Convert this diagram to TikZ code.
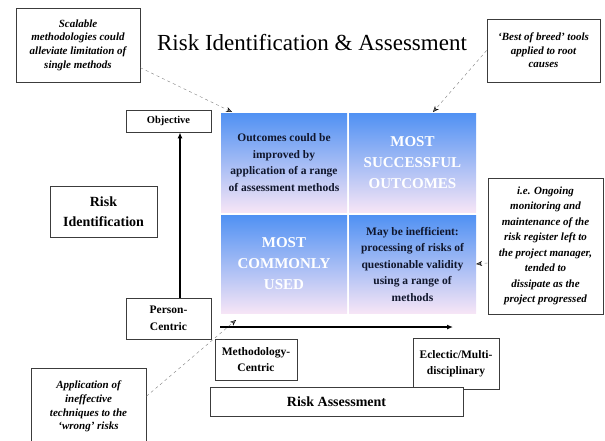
\documentclass[tikz,border=0pt]{standalone}
\usepackage{fontspec}
\setmainfont{Liberation Serif}
\usepackage{tikz}
\usetikzlibrary{arrows.meta}

\definecolor{cellTop}{RGB}{80,145,243}
\definecolor{cellMid}{RGB}{160,198,247}
\definecolor{cellBot}{RGB}{246,229,246}
\definecolor{boxLine}{RGB}{60,60,60}
\definecolor{cellText}{RGB}{16,22,44}

\begin{document}
\begin{tikzpicture}[x=1pt,y=-1pt,
		box/.style={shape=rectangle,draw=boxLine,thick,fill=white,inner sep=0pt,align=center,font=\bfseries},
		note/.style={box,font=\bfseries\itshape\fontsize{11}{13.6}\selectfont},
		cell/.style={shape=rectangle,inner sep=0pt,align=center,minimum width=126pt,text=cellText,
			top color=cellTop,middle color=cellMid,bottom color=cellBot,
			font=\bfseries\fontsize{11.5}{16.5}\selectfont},
		big/.style={cell,text=white,font=\bfseries\fontsize{15}{21}\selectfont},
		axis/.style={-{Latex[length=6pt,width=5pt]},line width=1.6pt,black},
		note arrow/.style={-{Stealth[length=6pt,width=5pt,black]},dashed,gray,thin}]
			\useasboundingbox (0,0) rectangle (605,440);
			\clip (0,0) rectangle (605,440);
			
			\node (T) at (312,43) {\fontsize{23}{27}\selectfont Risk Identification \& Assessment};
			
			\node[cell,minimum height=99pt] (TL) at (284,162.5) {Outcomes could be\\improved by\\application of a range\\of assessment methods};
			\node[big,minimum height=99pt,minimum width=127pt] (TR) at (412.5,162.5) {MOST\\SUCCESSFUL\\OUTCOMES};
			\node[big,minimum height=98pt] (BL) at (284,264) {MOST\\COMMONLY\\USED};
			\node[cell,minimum height=98pt,minimum width=127pt] (BR) at (412.5,264) {May be inefficient:\\processing of risks of\\questionable validity\\using a range of\\methods};
			
			\node[box,minimum width=85pt,minimum height=22pt,font=\bfseries\fontsize{10.5}{13}\selectfont] (Obj) at (168.5,121) {Objective};
			\node[box,minimum width=107pt,minimum height=51pt,font=\bfseries\fontsize{14}{20.5}\selectfont] (RI) at (103.5,211.5) {Risk\\Identification};
			\node[box,minimum width=85pt,minimum height=41pt,font=\bfseries\fontsize{11.5}{16.5}\selectfont] (PC) at (168.5,318.5) {Person-\\Centric};
			\node[box,minimum width=82pt,minimum height=41pt,font=\bfseries\fontsize{11.5}{16}\selectfont] (MC) at (256,359.5) {Methodology-\\Centric};
			\node[box,minimum width=86pt,minimum height=51pt,font=\bfseries\fontsize{11.5}{16}\selectfont] (EM) at (456,363.5) {Eclectic/Multi-\\disciplinary};
			\node[box,minimum width=253pt,minimum height=29pt,font=\bfseries\fontsize{14}{17}\selectfont] (RA) at (336.5,401.5) {Risk Assessment};
			
			\node[note,minimum width=124pt,minimum height=74pt] (N1) at (78,45) {Scalable\\methodologies could\\alleviate limitation of\\single methods};
			\node[note,minimum width=113pt,minimum height=63pt] (N2) at (543.5,50.5) {`Best of breed' tools\\applied to root\\causes};
			\node[note,minimum width=115pt,minimum height=136pt,font=\bfseries\itshape\fontsize{11}{15.5}\selectfont] (N3) at (545.5,246) {i.e. Ongoing\\monitoring and\\maintenance of the\\risk register left to\\the project manager,\\tended to\\dissipate as the\\project progressed};
			\node[note,minimum width=115pt,minimum height=77pt] (N4) at (88.5,406.5) {Application of\\ineffective\\techniques to the\\`wrong' risks};
			
			\coordinate (T1) at (232,112);
			\coordinate (T2) at (433,112);
			\coordinate (T4) at (236,320);
			\coordinate (X0) at (220,327);
			\coordinate (X1) at (453,327);
			
			\path [axis] ([xshift=11.5pt]PC.north) edge ([xshift=11.5pt]Obj.south);
			\path [axis] (X0) edge (X1);
			
			\path [note arrow] (N1.-20) edge (T1);
			\path [note arrow] (N2.west) edge (T2);
			\path [note arrow] ([yshift=-17pt]N3.west) edge (BR.east);
			\path [note arrow] (N4.10) edge (T4);
			\end{tikzpicture}
\end{document}
